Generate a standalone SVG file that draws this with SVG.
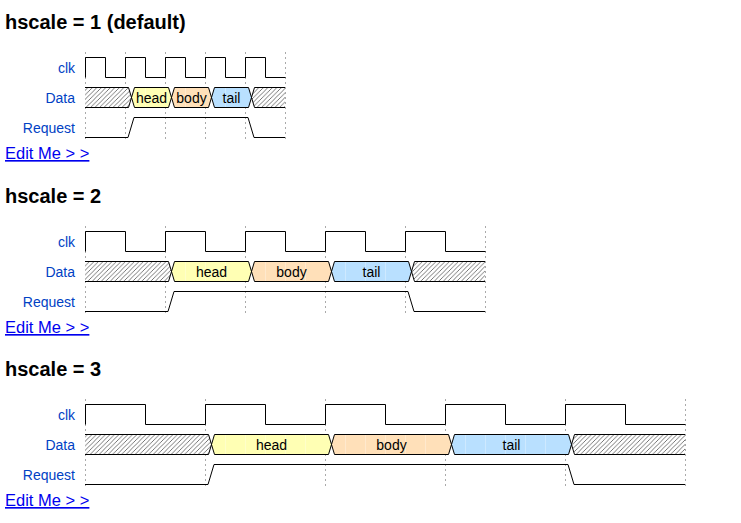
<svg xmlns="http://www.w3.org/2000/svg" width="741" height="523" viewBox="0 0 741 523">
<style>
.title{font-family:"Liberation Sans",Arial,sans-serif;font-weight:bold;font-size:20px;fill:#000}
.link{font-family:"Liberation Sans",Arial,sans-serif;font-size:16.5px;fill:#0000ee;text-decoration:underline}
.lbl{font-family:"Liberation Sans",Arial,sans-serif;font-size:14px;fill:#0041c4;text-anchor:end}
.dt{font-family:"Liberation Sans",Arial,sans-serif;font-size:14px;fill:#000;text-anchor:middle}
.wave{fill:none;stroke:#000;stroke-width:1}
.grid{fill:none;stroke:#aaa;stroke-width:1;stroke-dasharray:2,3}
.seam{fill:none;stroke:#fff;stroke-width:1;opacity:0.3}
.hx{fill:url(#hatch);stroke:none}
.c3{fill:#ffffb4}
.c4{fill:#ffe0b9}
.c5{fill:#b9e0ff}
</style>
<defs>
<pattern id="hatch" patternUnits="userSpaceOnUse" width="4.5" height="4.5">
<rect width="4.5" height="4.5" fill="#fff"/>
<path d="M0,4.5 L4.5,0 M-1,1 L1,-1 M3.5,5.5 L5.5,3.5" stroke="#555" stroke-width="0.8"/>
</pattern>
</defs>

<g id="diagram1">
<text class="title" x="5" y="29">hscale = 1 (default)</text>
<g id="d1-grid">
<path class="grid" d="M85.5,52 V142 M125.5,52 V142 M165.5,52 V142 M205.5,52 V142 M245.5,52 V142 M285.5,52 V142"/>
</g>
<g id="d1-labels">
<text class="lbl" x="75" y="73">clk</text>
<text class="lbl" x="75" y="103">Data</text>
<text class="lbl" x="75" y="133">Request</text>
</g>
<g id="d1-clk">
<path class="wave" d="M85.5,77.5 V57.5 H105.5 V77.5 H125.5 V57.5 H145.5 V77.5 H165.5 V57.5 H185.5 V77.5 H205.5 V57.5 H225.5 V77.5 H245.5 V57.5 H265.5 V77.5 H285.5"/>
</g>
<g id="d1-data">
<polygon class="hx" points="85,87.5 128.5,87.5 131.5,97.5 128.5,107.5 85,107.5"/>
<polygon class="c3" points="131.5,97.5 134.5,87.5 168.5,87.5 171.5,97.5 168.5,107.5 134.5,107.5"/>
<polygon class="c4" points="171.5,97.5 174.5,87.5 208.5,87.5 211.5,97.5 208.5,107.5 174.5,107.5"/>
<polygon class="c5" points="211.5,97.5 214.5,87.5 248.5,87.5 251.5,97.5 248.5,107.5 214.5,107.5"/>
<polygon class="hx" points="285,87.5 254.5,87.5 251.5,97.5 254.5,107.5 285,107.5"/>
<path class="seam" d="M145.5,88 V107 M185.5,88 V107 M225.5,88 V107"/>
<path class="wave" d="M85,87.5 H128.5 L131.5,97.5 L128.5,107.5 H85 M131.5,97.5 L134.5,87.5 H168.5 L171.5,97.5 L168.5,107.5 H134.5 Z M171.5,97.5 L174.5,87.5 H208.5 L211.5,97.5 L208.5,107.5 H174.5 Z M211.5,97.5 L214.5,87.5 H248.5 L251.5,97.5 L248.5,107.5 H214.5 Z M285,87.5 H254.5 L251.5,97.5 L254.5,107.5 H285"/>
<text class="dt" x="151.5" y="103">head</text>
<text class="dt" x="191.5" y="103">body</text>
<text class="dt" x="231.5" y="103">tail</text>
</g>
<g id="d1-request">
<path class="wave" d="M85,137.5 H128 L134,117.5 H248 L254,137.5 H285"/>
</g>
<text class="link" x="5" y="159">Edit Me &gt; &gt;</text>
</g>

<g id="diagram2">
<text class="title" x="5" y="203">hscale = 2</text>
<g id="d2-grid">
<path class="grid" d="M85.5,226 V316 M165.5,226 V316 M245.5,226 V316 M325.5,226 V316 M405.5,226 V316 M485.5,226 V316"/>
</g>
<g id="d2-labels">
<text class="lbl" x="75" y="247">clk</text>
<text class="lbl" x="75" y="277">Data</text>
<text class="lbl" x="75" y="307">Request</text>
</g>
<g id="d2-clk">
<path class="wave" d="M85.5,251.5 V231.5 H125.5 V251.5 H165.5 V231.5 H205.5 V251.5 H245.5 V231.5 H285.5 V251.5 H325.5 V231.5 H365.5 V251.5 H405.5 V231.5 H445.5 V251.5 H485.5"/>
</g>
<g id="d2-data">
<polygon class="hx" points="85,261.5 168.5,261.5 171.5,271.5 168.5,281.5 85,281.5"/>
<polygon class="c3" points="171.5,271.5 174.5,261.5 248.5,261.5 251.5,271.5 248.5,281.5 174.5,281.5"/>
<polygon class="c4" points="251.5,271.5 254.5,261.5 328.5,261.5 331.5,271.5 328.5,281.5 254.5,281.5"/>
<polygon class="c5" points="331.5,271.5 334.5,261.5 408.5,261.5 411.5,271.5 408.5,281.5 334.5,281.5"/>
<polygon class="hx" points="485,261.5 414.5,261.5 411.5,271.5 414.5,281.5 485,281.5"/>
<path class="seam" d="M185.5,262 V281 M205.5,262 V281 M225.5,262 V281 M265.5,262 V281 M285.5,262 V281 M305.5,262 V281 M345.5,262 V281 M365.5,262 V281 M385.5,262 V281"/>
<path class="wave" d="M85,261.5 H168.5 L171.5,271.5 L168.5,281.5 H85 M171.5,271.5 L174.5,261.5 H248.5 L251.5,271.5 L248.5,281.5 H174.5 Z M251.5,271.5 L254.5,261.5 H328.5 L331.5,271.5 L328.5,281.5 H254.5 Z M331.5,271.5 L334.5,261.5 H408.5 L411.5,271.5 L408.5,281.5 H334.5 Z M485,261.5 H414.5 L411.5,271.5 L414.5,281.5 H485"/>
<text class="dt" x="211.5" y="277">head</text>
<text class="dt" x="291.5" y="277">body</text>
<text class="dt" x="371.5" y="277">tail</text>
</g>
<g id="d2-request">
<path class="wave" d="M85,311.5 H168 L174,291.5 H408 L414,311.5 H485"/>
</g>
<text class="link" x="5" y="333">Edit Me &gt; &gt;</text>
</g>

<g id="diagram3">
<text class="title" x="5" y="376">hscale = 3</text>
<g id="d3-grid">
<path class="grid" d="M85.5,399 V489 M205.5,399 V489 M325.5,399 V489 M445.5,399 V489 M565.5,399 V489 M685.5,399 V489"/>
</g>
<g id="d3-labels">
<text class="lbl" x="75" y="420">clk</text>
<text class="lbl" x="75" y="450">Data</text>
<text class="lbl" x="75" y="480">Request</text>
</g>
<g id="d3-clk">
<path class="wave" d="M85.5,424.5 V404.5 H145.5 V424.5 H205.5 V404.5 H265.5 V424.5 H325.5 V404.5 H385.5 V424.5 H445.5 V404.5 H505.5 V424.5 H565.5 V404.5 H625.5 V424.5 H685.5"/>
</g>
<g id="d3-data">
<polygon class="hx" points="85,434.5 208.5,434.5 211.5,444.5 208.5,454.5 85,454.5"/>
<polygon class="c3" points="211.5,444.5 214.5,434.5 328.5,434.5 331.5,444.5 328.5,454.5 214.5,454.5"/>
<polygon class="c4" points="331.5,444.5 334.5,434.5 448.5,434.5 451.5,444.5 448.5,454.5 334.5,454.5"/>
<polygon class="c5" points="451.5,444.5 454.5,434.5 568.5,434.5 571.5,444.5 568.5,454.5 454.5,454.5"/>
<polygon class="hx" points="685,434.5 574.5,434.5 571.5,444.5 574.5,454.5 685,454.5"/>
<path class="seam" d="M225.5,435 V454 M245.5,435 V454 M265.5,435 V454 M285.5,435 V454 M305.5,435 V454 M345.5,435 V454 M365.5,435 V454 M385.5,435 V454 M405.5,435 V454 M425.5,435 V454 M465.5,435 V454 M485.5,435 V454 M505.5,435 V454 M525.5,435 V454 M545.5,435 V454"/>
<path class="wave" d="M85,434.5 H208.5 L211.5,444.5 L208.5,454.5 H85 M211.5,444.5 L214.5,434.5 H328.5 L331.5,444.5 L328.5,454.5 H214.5 Z M331.5,444.5 L334.5,434.5 H448.5 L451.5,444.5 L448.5,454.5 H334.5 Z M451.5,444.5 L454.5,434.5 H568.5 L571.5,444.5 L568.5,454.5 H454.5 Z M685,434.5 H574.5 L571.5,444.5 L574.5,454.5 H685"/>
<text class="dt" x="271.5" y="450">head</text>
<text class="dt" x="391.5" y="450">body</text>
<text class="dt" x="511.5" y="450">tail</text>
</g>
<g id="d3-request">
<path class="wave" d="M85,484.5 H208 L214,464.5 H568 L574,484.5 H685"/>
</g>
<text class="link" x="5" y="506">Edit Me &gt; &gt;</text>
</g>
</svg>
